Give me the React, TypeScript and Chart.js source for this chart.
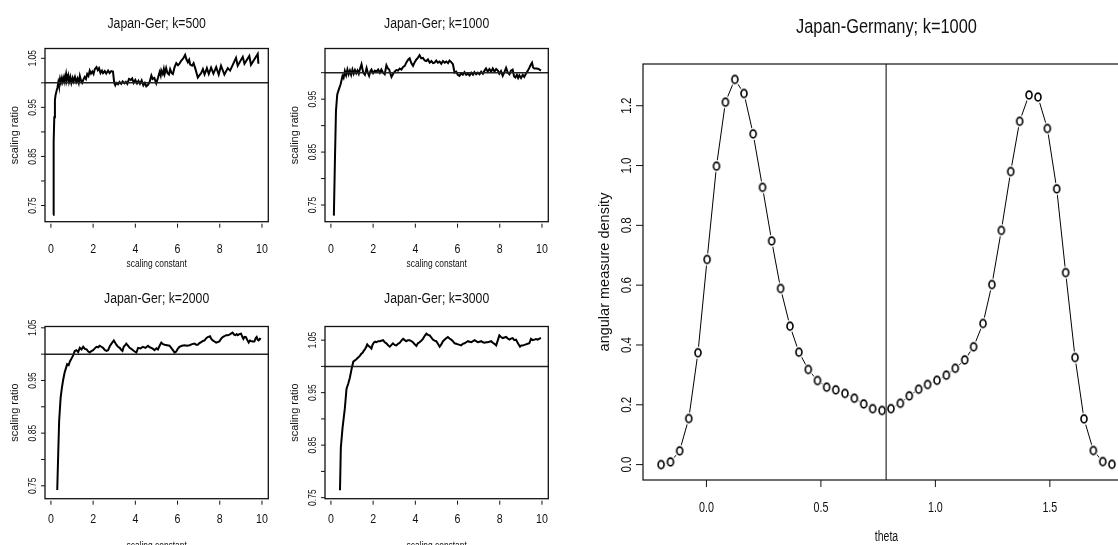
import React, { useEffect, useRef } from 'react';
import { Chart, registerables } from 'chart.js';

Chart.register(...registerables);

// ---------------- data ----------------
const K500: [number, number][] = [
  [0.10,0.731],[0.12,0.80],[0.14,0.88],[0.16,0.93],[0.19,0.965],[0.22,0.975],[0.27,0.984],[0.31,0.990],[0.35,1.001],[0.38,0.995],
  [0.43,1.008],[0.47,1.000],[0.52,1.010],[0.56,1.002],[0.62,1.012],[0.66,1.003],[0.72,1.018],[0.76,1.006],[0.82,1.015],[0.86,1.002],
  [0.92,1.012],[0.97,1.000],[1.03,1.010],[1.08,1.003],[1.14,1.012],[1.20,1.002],[1.26,1.009],[1.32,1.000],[1.37,1.014],[1.43,1.004],
  [1.48,1.000],[1.53,1.006],[1.60,1.012],[1.66,1.008],[1.72,1.018],[1.78,1.014],[1.84,1.025],[1.90,1.019],[1.96,1.023],[2.02,1.018],
  [2.08,1.028],[2.16,1.032],[2.22,1.026],[2.28,1.030],[2.35,1.020],[2.42,1.025],[2.47,1.020],[2.55,1.024],[2.62,1.019],[2.71,1.025],
  [2.78,1.020],[2.86,1.024],[2.94,1.023],[3.00,1.000],[3.05,0.995],[3.10,1.000],[3.18,0.997],[3.25,1.002],[3.33,0.998],[3.40,1.003],
  [3.48,0.999],[3.55,1.002],[3.62,0.998],[3.70,1.008],[3.78,1.006],[3.85,1.009],[3.92,1.000],[4.00,1.006],[4.08,0.999],[4.15,1.004],
  [4.22,0.998],[4.30,1.005],[4.38,0.995],[4.45,1.000],[4.52,0.993],[4.60,0.996],[4.68,1.002],[4.76,1.015],[4.82,1.008],[4.90,1.010],
  [4.99,0.999],[5.07,1.010],[5.15,1.022],[5.20,1.015],[5.23,1.025],[5.30,1.018],[5.35,1.028],[5.39,1.018],[5.46,1.030],[5.52,1.020],
  [5.59,1.017],[5.65,1.028],[5.72,1.020],[5.78,1.018],[5.86,1.032],[5.94,1.040],[6.02,1.036],[6.09,1.039],[6.17,1.045],[6.25,1.049],
  [6.30,1.052],[6.36,1.057],[6.42,1.048],[6.49,1.042],[6.55,1.047],[6.60,1.037],[6.69,1.035],[6.76,1.040],[6.85,1.028],[6.96,1.011],
  [7.12,1.020],[7.20,1.028],[7.28,1.017],[7.39,1.030],[7.48,1.018],[7.59,1.031],[7.70,1.019],[7.83,1.032],[7.95,1.017],[8.06,1.035],
  [8.22,1.017],[8.38,1.030],[8.49,1.025],[8.77,1.051],[8.85,1.035],[9.09,1.053],[9.17,1.039],[9.40,1.055],[9.48,1.037],[9.80,1.059],
  [9.83,1.039],
];

const K1000: [number, number][] = [
  [0.14,0.730],[0.19,0.833],[0.24,0.928],[0.30,0.959],[0.38,0.969],[0.46,0.978],[0.55,0.994],[0.60,0.990],[0.66,1.003],[0.72,0.995],
  [0.78,1.006],[0.84,0.997],[0.90,1.004],[0.96,0.996],[1.02,1.006],[1.08,0.998],[1.14,1.005],[1.20,0.999],[1.26,1.004],[1.32,0.998],
  [1.37,1.006],[1.45,1.016],[1.53,1.000],[1.61,0.996],[1.69,1.009],[1.75,1.000],[1.81,0.994],[1.87,1.003],[1.92,1.006],[2.00,0.999],
  [2.08,1.004],[2.16,1.002],[2.24,1.006],[2.32,1.000],[2.39,1.006],[2.47,1.000],[2.55,0.997],[2.63,1.014],[2.70,1.008],[2.76,1.006],
  [2.82,0.998],[2.87,0.992],[2.95,0.998],[3.02,1.002],[3.10,1.005],[3.18,1.004],[3.26,1.008],[3.34,1.006],[3.42,1.011],[3.50,1.013],
  [3.57,1.019],[3.65,1.024],[3.73,1.027],[3.81,1.018],[3.89,1.013],[3.97,1.020],[4.05,1.025],[4.12,1.028],[4.20,1.033],[4.28,1.027],
  [4.36,1.028],[4.44,1.023],[4.52,1.022],[4.60,1.025],[4.68,1.019],[4.76,1.022],[4.84,1.018],[4.91,1.019],[4.99,1.023],[5.07,1.019],
  [5.15,1.021],[5.23,1.017],[5.31,1.022],[5.39,1.019],[5.47,1.021],[5.55,1.018],[5.62,1.023],[5.70,1.020],[5.78,1.016],[5.86,1.000],
  [5.94,1.002],[6.01,0.996],[6.09,0.994],[6.17,0.999],[6.25,0.996],[6.33,1.001],[6.41,0.996],[6.49,0.998],[6.57,0.995],[6.65,1.000],
  [6.73,0.996],[6.80,1.001],[6.88,0.997],[6.96,1.000],[7.04,0.997],[7.12,1.002],[7.20,0.998],[7.28,1.004],[7.35,1.008],[7.43,1.002],
  [7.51,1.007],[7.59,1.002],[7.67,1.008],[7.75,1.002],[7.83,1.007],[7.91,1.004],[7.98,0.998],[8.06,1.003],[8.14,0.994],[8.22,1.001],
  [8.30,1.009],[8.38,1.000],[8.46,0.997],[8.53,1.004],[8.61,1.006],[8.68,0.993],[8.74,0.991],[8.81,0.996],[8.87,0.990],[8.93,0.995],
  [9.01,0.990],[9.09,0.996],[9.16,0.992],[9.24,0.998],[9.32,1.003],[9.40,1.009],[9.47,1.015],[9.53,1.019],[9.58,1.010],[9.64,1.008],
  [9.75,1.008],[9.84,1.007],[9.95,1.004],
];

const K2000: [number, number][] = [
  [0.30,0.742],[0.35,0.817],[0.39,0.873],[0.46,0.917],[0.52,0.936],[0.58,0.951],[0.65,0.965],[0.71,0.973],[0.77,0.981],[0.84,0.979],
  [0.90,0.986],[0.98,0.992],[1.06,0.998],[1.13,1.006],[1.21,1.0075],[1.29,1.004],[1.37,1.012],[1.45,1.009],[1.53,1.014],[1.61,1.010],
  [1.69,1.009],[1.77,1.005],[1.84,1.003],[1.92,1.006],[2.00,1.0075],[2.08,1.011],[2.16,1.014],[2.24,1.013],[2.31,1.016],[2.39,1.014],
  [2.47,1.012],[2.55,1.008],[2.63,1.006],[2.71,1.0075],[2.79,1.015],[2.87,1.020],[2.98,1.026],[3.04,1.022],[3.10,1.018],[3.18,1.014],
  [3.26,1.012],[3.33,1.008],[3.39,1.006],[3.45,1.014],[3.50,1.016],[3.57,1.020],[3.65,1.016],[3.73,1.012],[3.81,1.010],[3.89,1.0075],
  [3.97,1.005],[4.05,1.003],[4.13,1.012],[4.25,1.011],[4.36,1.014],[4.48,1.012],[4.60,1.016],[4.68,1.013],[4.76,1.012],[4.84,1.010],
  [4.91,1.0075],[5.00,1.011],[5.07,1.009],[5.15,1.016],[5.23,1.022],[5.31,1.019],[5.39,1.018],[5.50,1.017],[5.62,1.016],[5.70,1.012],
  [5.78,1.0075],[5.86,1.003],[5.94,1.005],[6.01,1.010],[6.09,1.014],[6.21,1.016],[6.33,1.017],[6.45,1.016],[6.57,1.017],[6.69,1.019],
  [6.80,1.020],[6.88,1.018],[6.96,1.018],[7.04,1.021],[7.12,1.023],[7.20,1.025],[7.28,1.026],[7.35,1.030],[7.43,1.0325],[7.54,1.034],
  [7.60,1.029],[7.67,1.026],[7.75,1.024],[7.83,1.022],[7.91,1.023],[7.98,1.024],[8.06,1.029],[8.14,1.0325],[8.22,1.034],[8.30,1.036],
  [8.38,1.036],[8.46,1.037],[8.53,1.039],[8.61,1.041],[8.68,1.037],[8.74,1.036],[8.80,1.038],[8.85,1.036],[8.93,1.038],[9.01,1.039],
  [9.07,1.033],[9.12,1.029],[9.18,1.033],[9.24,1.0325],[9.30,1.027],[9.37,1.022],[9.43,1.026],[9.48,1.025],[9.56,1.024],[9.64,1.024],
  [9.70,1.030],[9.75,1.0325],[9.80,1.027],[9.84,1.026],[9.90,1.029],[9.95,1.028],
];

const K3000: [number, number][] = [
  [0.43,0.764],[0.47,0.845],[0.55,0.8825],[0.66,0.920],[0.74,0.9575],[0.82,0.967],[0.90,0.979],[0.98,0.995],[1.06,1.009],[1.12,1.011],
  [1.18,1.0125],[1.24,1.015],[1.29,1.017],[1.37,1.020],[1.44,1.024],[1.50,1.026],[1.56,1.030],[1.61,1.0325],[1.67,1.037],[1.72,1.042],
  [1.78,1.039],[1.84,1.0375],[1.92,1.034],[1.97,1.041],[2.03,1.045],[2.10,1.047],[2.16,1.046],[2.24,1.048],[2.31,1.048],[2.39,1.049],
  [2.47,1.050],[2.55,1.046],[2.63,1.044],[2.71,1.040],[2.79,1.0375],[2.87,1.041],[2.94,1.044],[3.02,1.041],[3.10,1.040],[3.18,1.043],
  [3.26,1.045],[3.34,1.049],[3.42,1.0525],[3.50,1.050],[3.57,1.048],[3.65,1.050],[3.73,1.050],[3.81,1.048],[3.89,1.046],[3.97,1.042],
  [4.05,1.039],[4.12,1.044],[4.20,1.046],[4.28,1.049],[4.36,1.0525],[4.44,1.058],[4.52,1.0625],[4.60,1.060],[4.68,1.059],[4.76,1.055],
  [4.83,1.051],[4.91,1.049],[4.99,1.048],[5.07,1.043],[5.15,1.0375],[5.23,1.042],[5.31,1.048],[5.42,1.052],[5.54,1.056],[5.62,1.053],
  [5.70,1.051],[5.78,1.048],[5.86,1.044],[5.94,1.043],[6.02,1.042],[6.10,1.041],[6.17,1.040],[6.25,1.043],[6.33,1.044],[6.41,1.046],
  [6.49,1.048],[6.57,1.047],[6.65,1.046],[6.73,1.048],[6.80,1.050],[6.88,1.048],[6.96,1.046],[7.04,1.047],[7.12,1.048],[7.20,1.046],
  [7.28,1.045],[7.36,1.046],[7.43,1.046],[7.51,1.047],[7.59,1.048],[7.67,1.045],[7.75,1.043],[7.83,1.040],[7.91,1.050],[7.98,1.059],
  [8.06,1.056],[8.14,1.054],[8.22,1.055],[8.30,1.056],[8.38,1.053],[8.46,1.051],[8.53,1.053],[8.61,1.054],[8.69,1.050],[8.77,1.051],
  [8.86,1.044],[8.96,1.0375],[9.02,1.040],[9.09,1.040],[9.17,1.041],[9.24,1.042],[9.32,1.043],[9.40,1.044],[9.48,1.0525],[9.56,1.050],
  [9.64,1.051],[9.72,1.052],[9.80,1.051],[9.88,1.053],[9.95,1.054],
];

const THETA = [
  -0.198,-0.157,-0.117,-0.077,-0.037,0.003,0.044,0.083,0.124,0.164,
  0.204,0.245,0.285,0.324,0.365,0.404,0.445,0.485,0.525,0.565,
  0.605,0.646,0.687,0.726,0.767,0.806,0.847,0.886,0.927,0.966,
  1.007,1.048,1.087,1.128,1.167,1.208,1.247,1.288,1.329,1.368,
  1.409,1.448,1.489,1.530,1.569,1.610,1.649,1.690,1.731,1.771,
];
const DENSITY = [
  0.000,0.009,0.046,0.154,0.374,0.686,0.998,1.212,1.288,1.241,
  1.106,0.927,0.748,0.589,0.463,0.376,0.318,0.281,0.259,0.250,
  0.238,0.222,0.203,0.187,0.181,0.187,0.205,0.230,0.252,0.268,
  0.282,0.299,0.322,0.350,0.394,0.472,0.602,0.783,0.980,1.148,
  1.236,1.229,1.124,0.922,0.642,0.358,0.153,0.047,0.010,0.001,
];

const SMALL_TITLES = ['Japan-Ger; k=500', 'Japan-Ger; k=1000', 'Japan-Ger; k=2000', 'Japan-Ger; k=3000'];
const SMALL_X_TICKS = [0, 2, 4, 6, 8, 10];
const SMALL_X_LABELS = ['0', '2', '4', '6', '8', '10'];
const SMALL_Y_TICKS = [0.75, 0.8, 0.85, 0.9, 0.95, 1.0, 1.05];
const SMALL_Y_LABELS = ['0.75', '', '0.85', '', '0.95', '', '1.05'];
const SMALL_X_TITLE = 'scaling constant';
const SMALL_Y_TITLE = 'scaling ratio';
const REF_RATIO = 1;

const BIG_TITLE = 'Japan-Germany; k=1000';
const BIG_X_TICKS = [0, 0.5, 1, 1.5];
const BIG_X_LABELS = ['0.0', '0.5', '1.0', '1.5'];
const BIG_Y_TICKS = [0, 0.2, 0.4, 0.6, 0.8, 1.0, 1.2];
const BIG_Y_LABELS = ['0.0', '0.2', '0.4', '0.6', '0.8', '1.0', '1.2'];
const BIG_X_TITLE = 'theta';
const BIG_Y_TITLE = 'angular measure density';
const REF_THETA = 0.785;

// ---------------- drawing helpers ----------------
const FONT = '"Liberation Sans", Arial, Helvetica, sans-serif';
const INK = '#111';

function drawText(ctx: CanvasRenderingContext2D, s: string, x: number, y: number, size: number, sq: number,
                  rotated: boolean, baseline: CanvasTextBaseline) {
  ctx.save();
  ctx.translate(x, y);
  if (rotated) ctx.rotate(-Math.PI / 2);
  ctx.scale(sq, 1);
  ctx.font = `${size}px ${FONT}`;
  ctx.textAlign = 'center';
  ctx.textBaseline = baseline;
  ctx.fillStyle = INK;
  ctx.fillText(s, 0, 0);
  ctx.restore();
}

type Frame = {
  title: string; titleY: number; titleSize: number; titleSq: number;
  xTicks: number[]; xLabels: string[]; xTickGap: number; tickLen: number;
  xLabelY: number; xLabelSize: number; xLabelSq: number;
  yTicks: number[]; yLabels: string[]; yLabelDx: number; yLabelSize: number; yLabelSq: number;
  xTitle: string; xTitleY: number; xTitleSize: number; xTitleSq: number;
  yTitle: string; yTitleDx: number; yTitleSize: number; yTitleSq: number;
  hRef?: number; vRef?: number; refColor: string; refWidth: number; boxWidth: number;
};

function drawFrame(chart: any, f: Frame) {
  const { ctx, chartArea: a, scales } = chart;
  const sx = scales.x, sy = scales.y;
  const seg = (x1: number, y1: number, x2: number, y2: number) => {
    ctx.beginPath(); ctx.moveTo(x1, y1); ctx.lineTo(x2, y2); ctx.stroke();
  };
  ctx.save();
  ctx.strokeStyle = f.refColor;
  ctx.lineWidth = f.refWidth;
  if (f.hRef !== undefined) { const py = sy.getPixelForValue(f.hRef); seg(a.left, py, a.right, py); }
  if (f.vRef !== undefined) { const px = sx.getPixelForValue(f.vRef); seg(px, a.top, px, a.bottom); }

  ctx.strokeStyle = INK;
  ctx.lineWidth = f.boxWidth;
  ctx.strokeRect(a.left, a.top, a.right - a.left, a.bottom - a.top);

  const cx = (a.left + a.right) / 2;
  const cy = (a.top + a.bottom) / 2;
  ctx.lineWidth = 1;
  f.xTicks.forEach((v, i) => {
    if (v < sx.min || v > sx.max) return;
    const px = sx.getPixelForValue(v);
    seg(px, a.bottom + f.xTickGap, px, a.bottom + f.xTickGap + f.tickLen);
    if (f.xLabels[i]) drawText(ctx, f.xLabels[i], px, f.xLabelY, f.xLabelSize, f.xLabelSq, false, 'alphabetic');
  });
  f.yTicks.forEach((v, i) => {
    if (v < sy.min || v > sy.max) return;
    const py = sy.getPixelForValue(v);
    seg(a.left, py, a.left - f.tickLen, py);
    if (f.yLabels[i]) drawText(ctx, f.yLabels[i], a.left - f.yLabelDx, py, f.yLabelSize, f.yLabelSq, true, 'middle');
  });
  drawText(ctx, f.title, cx, f.titleY, f.titleSize, f.titleSq, false, 'alphabetic');
  drawText(ctx, f.xTitle, cx, f.xTitleY, f.xTitleSize, f.xTitleSq, false, 'alphabetic');
  drawText(ctx, f.yTitle, a.left - f.yTitleDx, cy, f.yTitleSize, f.yTitleSq, true, 'middle');
  ctx.restore();
}

function makeMarker(): HTMLCanvasElement {
  const c = document.createElement('canvas');
  c.width = 14; c.height = 16;
  const g = c.getContext('2d')!;
  g.fillStyle = '#fff';
  g.beginPath(); g.ellipse(7, 8, 5.0, 6.2, 0, 0, Math.PI * 2); g.fill();
  g.strokeStyle = '#000'; g.lineWidth = 1.6;
  g.beginPath(); g.ellipse(7, 8, 3.0, 3.9, 0, 0, Math.PI * 2); g.stroke();
  return c;
}

type PanelProps = {
  left: number; top: number; width: number; height: number;
  pad: { left: number; top: number; right: number; bottom: number };
  xRange: [number, number]; yRange: [number, number];
  makeDatasets: () => any[];
  frame: Frame;
};

function Panel({ left, top, width, height, pad, xRange, yRange, makeDatasets, frame }: PanelProps) {
  const ref = useRef<HTMLCanvasElement>(null);
  useEffect(() => {
    if (!ref.current) return;
    const plugin = { id: 'rframe', afterDatasetsDraw(chart: any) { drawFrame(chart, frame); } };
    const chart = new Chart(ref.current, {
      type: 'scatter',
      data: { datasets: makeDatasets() },
      options: {
        animation: false,
        responsive: false,
        devicePixelRatio: 1,
        events: [],
        layout: { padding: pad },
        plugins: { legend: { display: false }, tooltip: { enabled: false }, title: { display: false } },
        scales: {
          x: { type: 'linear', min: xRange[0], max: xRange[1], display: false },
          y: { type: 'linear', min: yRange[0], max: yRange[1], display: false },
        },
      },
      plugins: [plugin],
    } as any);
    return () => chart.destroy();
  }, []);
  return (
    <canvas ref={ref} width={width} height={height}
      style={{ position: 'absolute', left, top, width, height, display: 'block' }} />
  );
}

const smallFrame = (title: string, row: number): Frame => ({
  title, titleY: row === 0 ? 27.7 : 33.3, titleSize: 15.5, titleSq: 0.79,
  xTicks: SMALL_X_TICKS, xLabels: SMALL_X_LABELS, xTickGap: 2, tickLen: 4,
  xLabelY: row === 0 ? 253 : 252.5, xLabelSize: 12.5, xLabelSq: 0.85,
  yTicks: SMALL_Y_TICKS, yLabels: SMALL_Y_LABELS, yLabelDx: 12, yLabelSize: 10, yLabelSq: 0.85,
  xTitle: SMALL_X_TITLE, xTitleY: row === 0 ? 266.5 : 278.5, xTitleSize: 11.5, xTitleSq: 0.73,
  yTitle: SMALL_Y_TITLE, yTitleDx: 30, yTitleSize: 11.5, yTitleSq: 0.95,
  hRef: REF_RATIO, refColor: '#222', refWidth: 1.5, boxWidth: 1.3,
});

const lineSet = (pts: [number, number][]) => [{
  data: pts.map(([x, y]) => ({ x, y })),
  showLine: true, borderColor: '#000', borderWidth: 2, pointRadius: 0, tension: 0,
}];

const ROW0 = { top: 48.5, bottom: 270 - 221.7 };
const ROW1 = { top: 56.5, bottom: 275 - 228.7 };
const SMALL_X_RANGE: [number, number] = [-0.28, 10.3];

export default function App() {
  return (
    <div style={{ position: 'absolute', left: 0, top: 0, width: 1118, height: 545, overflow: 'hidden', background: '#fff' }}>
      <Panel left={0} top={0} width={280} height={270}
        pad={{ left: 45, right: 11.7, ...ROW0 }} xRange={SMALL_X_RANGE} yRange={[0.717, 1.070]}
        makeDatasets={() => lineSet(K500)} frame={smallFrame(SMALL_TITLES[0], 0)} />
      <Panel left={280} top={0} width={280} height={270}
        pad={{ left: 45, right: 11.7, ...ROW0 }} xRange={SMALL_X_RANGE} yRange={[0.7185, 1.0457]}
        makeDatasets={() => lineSet(K1000)} frame={smallFrame(SMALL_TITLES[1], 0)} />
      <Panel left={0} top={270} width={280} height={275}
        pad={{ left: 45, right: 11.7, ...ROW1 }} xRange={SMALL_X_RANGE} yRange={[0.7255, 1.0525]}
        makeDatasets={() => lineSet(K2000)} frame={smallFrame(SMALL_TITLES[2], 1)} />
      <Panel left={280} top={270} width={280} height={275}
        pad={{ left: 45, right: 11.7, ...ROW1 }} xRange={SMALL_X_RANGE} yRange={[0.748, 1.076]}
        makeDatasets={() => lineSet(K3000)} frame={smallFrame(SMALL_TITLES[3], 1)} />
      <Panel left={560} top={0} width={580} height={545}
        pad={{ left: 83, right: 10, top: 64, bottom: 65 }} xRange={[-0.277, 1.85]} yRange={[-0.0515, 1.3395]}
        makeDatasets={() => [{
          data: THETA.map((t, i) => ({ x: t, y: DENSITY[i] })),
          showLine: true, borderColor: '#000', borderWidth: 1, tension: 0,
          pointStyle: makeMarker(), pointRadius: 4,
        }]}
        frame={{
          title: BIG_TITLE, titleY: 33.3, titleSize: 20.5, titleSq: 0.8,
          xTicks: BIG_X_TICKS, xLabels: BIG_X_LABELS, xTickGap: 0, tickLen: 7,
          xLabelY: 512, xLabelSize: 14.5, xLabelSq: 0.74,
          yTicks: BIG_Y_TICKS, yLabels: BIG_Y_LABELS, yLabelDx: 16, yLabelSize: 14, yLabelSq: 0.82,
          xTitle: BIG_X_TITLE, xTitleY: 541, xTitleSize: 14, xTitleSq: 0.75,
          yTitle: BIG_Y_TITLE, yTitleDx: 38, yTitleSize: 14.5, yTitleSq: 1,
          vRef: REF_THETA, refColor: '#555', refWidth: 1.5, boxWidth: 1.2,
        }} />
    </div>
  );
}
